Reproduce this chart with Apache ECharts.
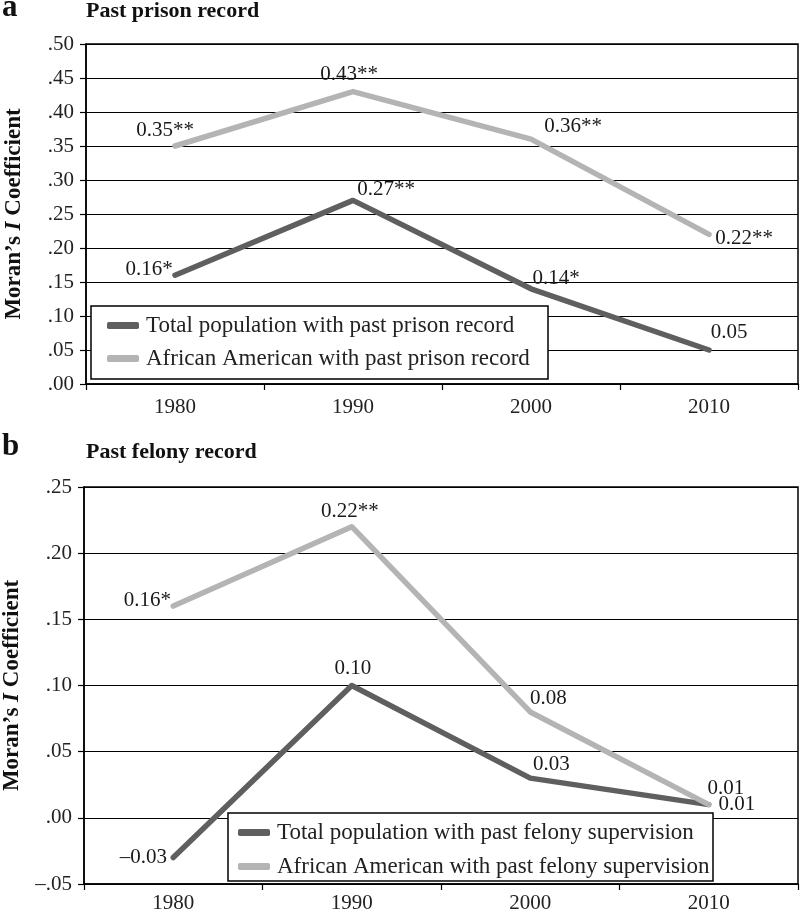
<!DOCTYPE html>
<html>
<head>
<meta charset="utf-8">
<script src="https://cdn.jsdelivr.net/npm/echarts@6/dist/echarts.min.js"></script>
<style>html,body{margin:0;padding:0;background:#fff}#c{width:800px;height:912px}</style>
</head>
<body>
<div id="c"></div>
<script>
// ---- data ----
const years = ['1980', '1990', '2000', '2010'];
const prisonTotal = [0.16, 0.27, 0.14, 0.05];
const prisonTotalSig = ['*', '**', '*', ''];
const prisonAA = [0.35, 0.43, 0.36, 0.22];
const prisonAASig = ['**', '**', '**', '**'];
const felonyTotal = [-0.03, 0.10, 0.03, 0.01];
const felonyTotalSig = ['', '', '', ''];
const felonyAA = [0.16, 0.22, 0.08, 0.01];
const felonyAASig = ['*', '**', '', ''];
const prisonTicks = { min: 0, max: 0.5, step: 0.05 };
const felonyTicks = { min: -0.05, max: 0.25, step: 0.05 };
const names = {
  pTot: 'Total population with past prison record',
  pAA: 'African American with past prison record',
  fTot: 'Total population with past felony supervision',
  fAA: 'African American with past felony supervision'
};

// ---- label placement (pixel offsets from point) ----
const offPTot = [[-26, -6], [33, -11], [25, -10], [20, -18]];
const offPAA = [[-10, -16], [-4, -17], [42, -13], [35, 4]];
const offFTot = [[-30, 0], [1, -17], [21, -14], [28, 0]];
const offFAA = [[-26, -6], [-2, -15], [18, -13], [17, -16]];

const FONT = '"Liberation Serif", "Times New Roman", serif';
const DARK = '#5f5f5f';
const LIGHT = '#b4b4b4';

function fmtVal(v) {
  const s = Math.abs(v).toFixed(2);
  return (v < 0 ? '\u2013' : '') + s;
}
function fmtTick(v) {
  const s = Math.abs(v).toFixed(2).replace(/^0/, '');
  return (v < -1e-9 ? '\u2013' : '') + s;
}
function buildData(vals, sig, offs) {
  return vals.map((v, i) => ({
    value: v,
    label: {
      show: true,
      position: 'inside',
      align: 'center',
      verticalAlign: 'middle',
      offset: offs[i],
      formatter: fmtVal(v) + sig[i],
      fontFamily: FONT,
      fontSize: 21,
      color: '#1a1a1a'
    }
  }));
}
function series(name, vals, sig, offs, color, idx) {
  return {
    name: name,
    type: 'line',
    xAxisIndex: idx,
    yAxisIndex: idx,
    data: buildData(vals, sig, offs),
    color: color,
    symbol: 'circle',
    symbolSize: 1,
    showSymbol: true,
    itemStyle: { color: color },
    lineStyle: { color: color, width: 5.5, cap: 'round', join: 'round' },
    emphasis: { disabled: true },
    animation: false,
    z: 3
  };
}
const axisNameRich = {
  b: { fontFamily: FONT, fontSize: 23, fontWeight: 'bold', color: '#111' },
  i: { fontFamily: FONT, fontSize: 23, fontWeight: 'bold', fontStyle: 'italic', color: '#111' }
};
function yAxis(idx, t) {
  return {
    type: 'value',
    gridIndex: idx,
    min: t.min, max: t.max, interval: t.step,
    name: '{b|Moran\u2019s }{i|I}{b| Coefficient}',
    nameLocation: 'middle',
    nameRotate: 90,
    nameGap: 60,
    nameTextStyle: { rich: axisNameRich },
    axisLine: { show: true, lineStyle: { color: '#000', width: 1.5 } },
    axisTick: { show: true, length: 6, lineStyle: { color: '#000', width: 1.2 } },
    axisLabel: { formatter: fmtTick, fontFamily: FONT, fontSize: 21, color: '#222', margin: 12 },
    splitLine: { show: true, lineStyle: { color: '#000', width: 1.2 } }
  };
}
function xAxis(idx, margin) {
  return {
    type: 'category',
    gridIndex: idx,
    data: years,
    boundaryGap: true,
    axisLine: { show: true, onZero: false, lineStyle: { color: '#000', width: 1.5 } },
    axisTick: { show: true, length: 6, alignWithLabel: false, lineStyle: { color: '#000', width: 1.2 } },
    axisLabel: { fontFamily: FONT, fontSize: 21, color: '#222', margin: margin },
    splitLine: { show: false }
  };
}
function legend(left, top, gap, data) {
  return {
    left: left, top: top, orient: 'vertical',
    itemGap: gap, itemWidth: 32, itemHeight: 7,
    icon: 'roundRect',
    selectedMode: false,
    padding: 0,
    z: 10,
    textStyle: { fontFamily: FONT, fontSize: 23, color: '#222', lineHeight: 23, padding: [0, 0, 0, 2] },
    data: data
  };
}

const chart = echarts.init(document.getElementById('c'), null, { renderer: 'canvas' });
chart.setOption({
  animation: false,
  backgroundColor: '#fff',
  grid: [
    { left: 86, top: 44, right: 2, height: 340, show: true, borderColor: '#000', borderWidth: 1.5, containLabel: false, outerBoundsMode: 'none' },
    { left: 84, top: 487, right: 2, height: 397, show: true, borderColor: '#000', borderWidth: 1.5, containLabel: false, outerBoundsMode: 'none' }
  ],
  xAxis: [xAxis(0, 13), xAxis(1, 9)],
  yAxis: [yAxis(0, prisonTicks), yAxis(1, felonyTicks)],
  legend: [
    legend(107, 314, 10, [names.pTot, names.pAA]),
    legend(238, 821, 11, [names.fTot, names.fAA])
  ],
  graphic: [
    { type: 'rect', z: 5, shape: { x: 91, y: 306, width: 457, height: 73 }, style: { fill: '#fff', stroke: '#000', lineWidth: 1.5 } },
    { type: 'rect', z: 5, shape: { x: 228, y: 813, width: 485, height: 68 }, style: { fill: '#fff', stroke: '#000', lineWidth: 1.5 } },
    { type: 'text', z: 5, left: 2, top: -8, style: { text: 'a', font: 'bold 31px ' + FONT, fill: '#111' } },
    { type: 'text', z: 5, left: 86, top: 0, style: { text: 'Past prison record', font: 'bold 22px ' + FONT, fill: '#111' } },
    { type: 'text', z: 5, left: 2, top: 431, style: { text: 'b', font: 'bold 31px ' + FONT, fill: '#111' } },
    { type: 'text', z: 5, left: 86, top: 441, style: { text: 'Past felony record', font: 'bold 22px ' + FONT, fill: '#111' } }
  ],
  series: [
    series(names.pTot, prisonTotal, prisonTotalSig, offPTot, DARK, 0),
    series(names.pAA, prisonAA, prisonAASig, offPAA, LIGHT, 0),
    series(names.fTot, felonyTotal, felonyTotalSig, offFTot, DARK, 1),
    series(names.fAA, felonyAA, felonyAASig, offFAA, LIGHT, 1)
  ]
});
</script>
</body>
</html>
